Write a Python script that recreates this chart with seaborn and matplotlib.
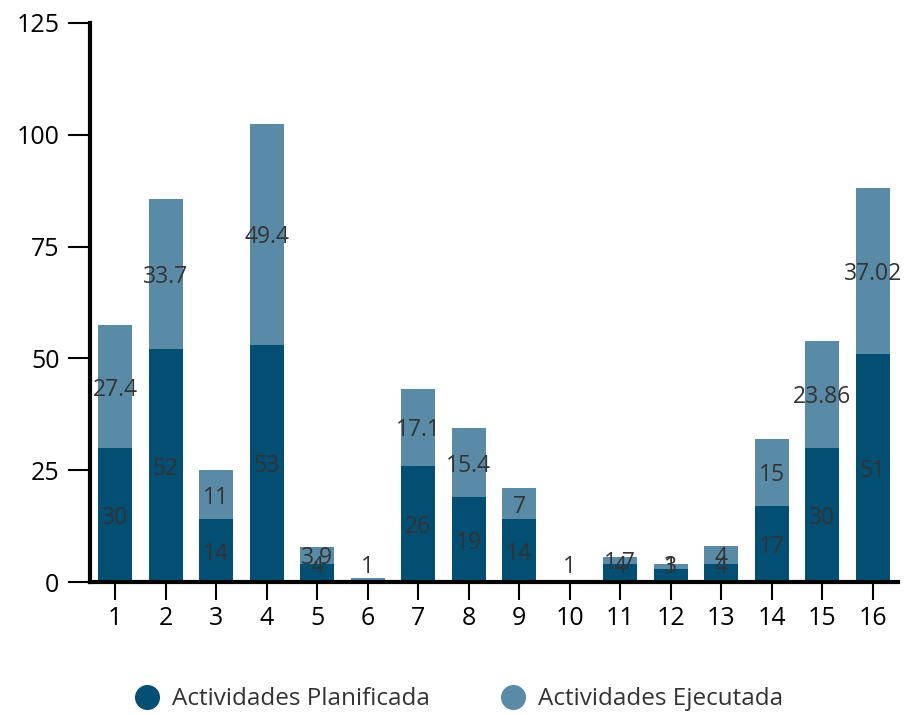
import numpy as np
import pandas as pd
import matplotlib
matplotlib.use("Agg")
import matplotlib.pyplot as plt
from matplotlib.lines import Line2D
import seaborn as sns

categorias = [str(i) for i in range(1, 17)]
planificada = [30, 52, 14, 53, 4, 0, 26, 19, 14, 0, 4, 3, 4, 17, 30, 51]
ejecutada = [27.4, 33.7, 11, 49.4, 3.9, 1, 17.1, 15.4, 7, 0, 1.7, 1, 4, 15, 23.86, 37.02]
etiq_plan = ["30", "52", "14", "53", "4", "", "26", "19", "14", "", "4", "3", "4", "17", "30", "51"]
etiq_ejec = ["27.4", "33.7", "11", "49.4", "3.9", "1", "17.1", "15.4", "7", "1", "1.7", "1", "4", "15", "23.86", "37.02"]

c_plan = "#024f73"
c_ejec = "#5a8ba6"

sns.set_style("white")
plt.rcParams['font.family'] = ['Open Sans', 'DejaVu Sans']

df = pd.DataFrame({"cat": categorias, "plan": planificada, "ejec": ejecutada})
df["total"] = df["plan"] + df["ejec"]

fig = plt.figure(figsize=(9.06, 7.15), dpi=100)
ax = fig.add_axes([0.0993, 0.186, 0.892, 0.782])

sns.barplot(data=df, x="cat", y="total", order=categorias, color=c_ejec,
            width=0.67, saturation=1, linewidth=0, edgecolor="none", ax=ax)
sns.barplot(data=df, x="cat", y="plan", order=categorias, color=c_plan,
            width=0.67, saturation=1, linewidth=0, edgecolor="none", ax=ax)

# etiquetas de datos centradas en cada segmento
for i in range(len(categorias)):
    p = planificada[i]
    e = ejecutada[i]
    if etiq_plan[i]:
        ax.text(i, max(p / 2, 4.0), etiq_plan[i], ha="center", va="center_baseline",
                fontsize=16.5, color="#333333")
    if etiq_ejec[i]:
        ax.text(i, max(p + e / 2, 4.0), etiq_ejec[i], ha="center", va="center_baseline",
                fontsize=16.5, color="#333333")

ax.set_xlim(-0.5, 15.5)
ax.set_ylim(0, 125)
ax.set_yticks([0, 25, 50, 75, 100, 125])
ax.set_xlabel("")
ax.set_ylabel("")
sns.despine(ax=ax)
ax.spines["left"].set_linewidth(3)
ax.spines["bottom"].set_linewidth(3)
ax.spines["left"].set_color("black")
ax.spines["bottom"].set_color("black")
ax.tick_params(axis="y", length=16, width=1.5, pad=6, labelsize=18, left=True,
               colors="black")
ax.tick_params(axis="x", length=13, width=1.5, pad=4, labelsize=18, bottom=True,
               colors="black")

handles = [Line2D([0], [0], marker="o", linestyle="", markersize=17, color=c_plan),
           Line2D([0], [0], marker="o", linestyle="", markersize=17, color=c_ejec)]
fig.legend(handles, ["Actividades Planificada", "Actividades Ejecutada"],
           loc="center", bbox_to_anchor=(0.5, 0.022), ncol=2, frameon=False,
           fontsize=17.5, handletextpad=0.05, columnspacing=2.4,
           labelcolor="#333333")

fig.savefig("out.png", dpi=100)
